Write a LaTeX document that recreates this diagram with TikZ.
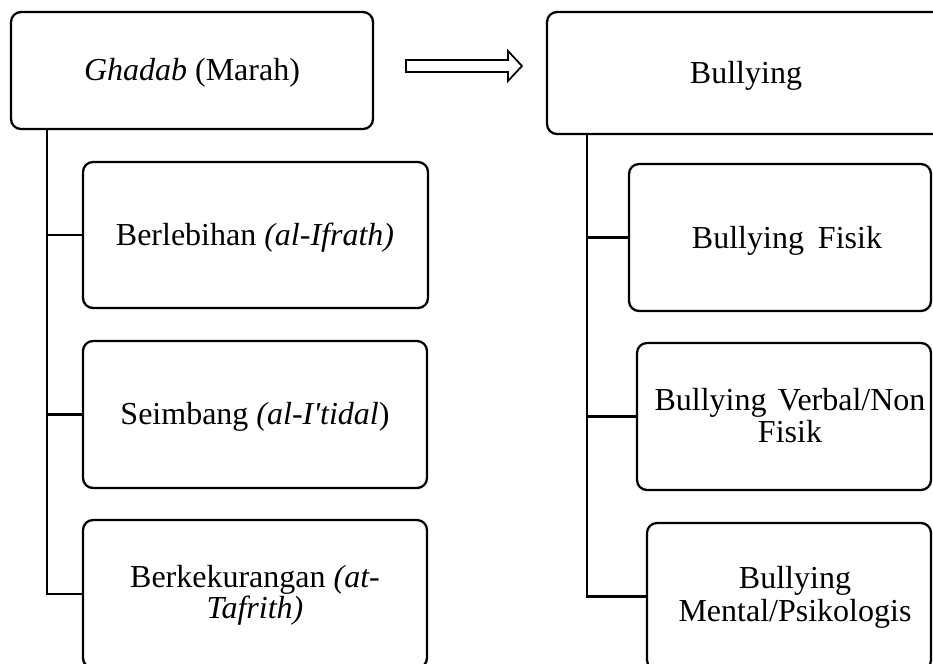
\documentclass[tikz,border=0pt]{standalone}
\usepackage{fontspec}
\setmainfont{Liberation Serif}
\usetikzlibrary{calc,fit}
\begin{document}
\begin{tikzpicture}[x=0.75pt,y=-0.75pt,
  box/.style={draw, line width=1.7pt, rounded corners=7.5pt, inner sep=0pt},
  txt/.style={anchor=base, inner sep=0pt, font=\fontsize{24}{24}\selectfont},
  conn/.style={line width=1.7pt},
  bigarrow/.style={draw, line width=1.3pt, fill=white, line join=miter}]
\useasboundingbox (0,0) rectangle (933,664);
% left column
\node[box, fit={(11,12) (373,129)}] (L0) {};
\node[box, fit={(83,162) (428,308)}] (L1) {};
\node[box, fit={(83,341) (427,488)}] (L2) {};
\node[box, fit={(83,520) (427,668)}] (L3) {};
\node[txt] (L0t) at (192,80) {\textit{Ghadab} (Marah)};
\node[txt] (L1t) at (255,245) {Berlebihan \textit{(al-Ifrath)}};
\node[txt] (L2t) at (255,424) {Seimbang \textit{(al-I\textquotesingle tidal})};
\node[txt] (L3a) at (255,587) {Berkekurangan \textit{(at-}};
\node[txt] (L3b) at (255,618) {\textit{Tafrith)}};
\coordinate (Ltrunk) at ($(L0.south west)+(37,0)$);
\draw[conn] (Ltrunk) |- (L1.west);
\draw[conn] (Ltrunk) |- (L2.west);
\draw[conn] (Ltrunk) |- (L3.west);
% arrow
\draw[bigarrow] (406,60) -- (508,60) -- (508,51) -- (522,66) -- (508,81) -- (508,72) -- (406,72) -- cycle;
% right column
\node[box, fit={(547,12) (945,134)}] (R0) {};
\node[box, fit={(629,164) (931,311)}] (R1) {};
\node[box, fit={(637,343) (931,490)}] (R2) {};
\node[box, fit={(647,523) (931,670)}] (R3) {};
\node[txt] (R0t) at (746,83) {Bullying};
\node[txt] (R1t) at (787,248) {Bullying\hspace{10.5pt}Fisik};
\node[txt] (R2a) at (790,410) {Bullying\hspace{8.5pt}Verbal/Non};
\node[txt] (R2b) at (790,442) {Fisik};
\node[txt] (R3a) at (795,588) {Bullying};
\node[txt] (R3b) at (795,621) {Mental/Psikologis};
\coordinate (Rtrunk) at ($(R0.south west)+(41,0)$);
\draw[conn] (Rtrunk) |- (R1.west);
\draw[conn] (Rtrunk) |- (R2.west);
\draw[conn] (Rtrunk) |- (R3.west);
\end{tikzpicture}
\end{document}
